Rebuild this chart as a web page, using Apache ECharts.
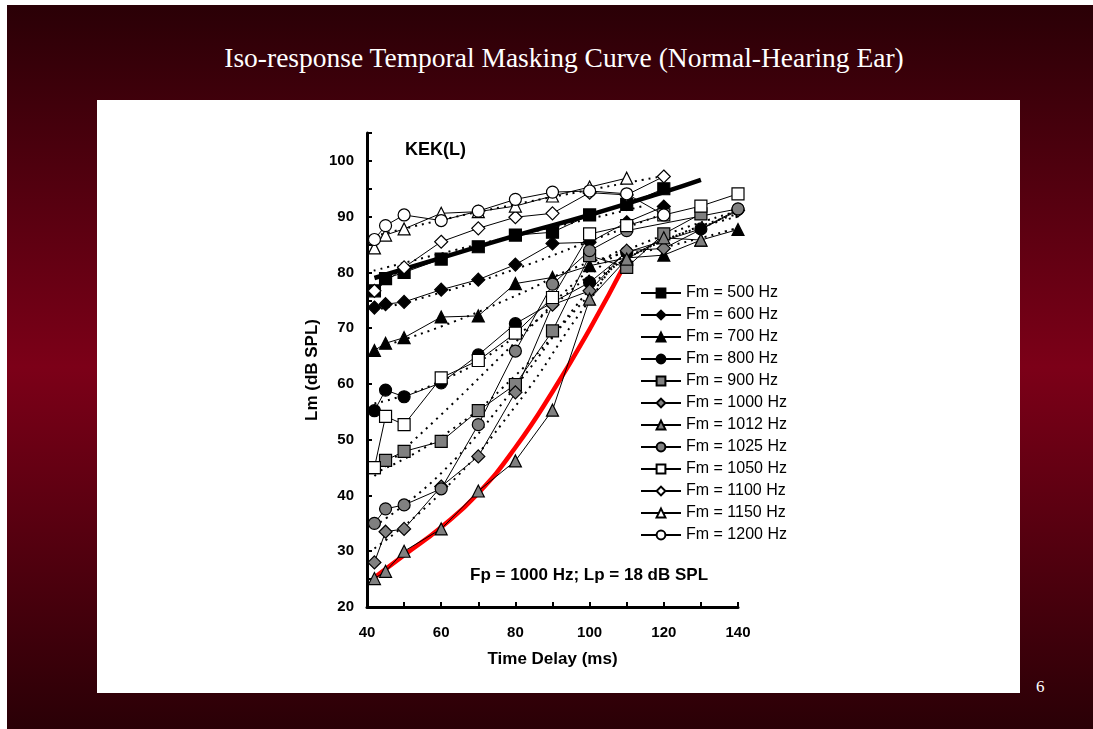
<!DOCTYPE html>
<html lang="en">
<head>
    <meta charset="UTF-8">
    <title>Iso-response Temporal Masking Curve</title>
    <style>
        * {
            margin: 0;
            padding: 0;
        }

        body {
            width: 1093px;
            height: 729px;
            background: #ffffff;
            position: relative;
            overflow: hidden;
        }

        .slide {
            position: absolute;
            left: 7px;
            top: 5px;
            right: 0;
            bottom: 0;
            background: linear-gradient(to bottom, #2a0006 0%, #7c0018 50%, #2a0006 100%);
        }

        .slide-title {
            position: absolute;
            left: 0;
            width: 1128px;
            top: 42px;
            text-align: center;
            color: #ffffff;
            font: 27.5px "Liberation Serif", "Times New Roman", serif;
        }

        .page-no {
            position: absolute;
            left: 1036px;
            top: 677px;
            color: #ffffff;
            font: 17px "Liberation Serif", "Times New Roman", serif;
        }

        .panel {
            position: absolute;
            left: 97px;
            top: 100px;
            width: 923px;
            height: 593px;
            background: #ffffff;
        }

        .main {
            position: absolute;
            left: 0;
            top: 0;
            width: 1093px;
            height: 729px;
        }
    </style>
</head>
<body>
<div class="slide"></div>
<div class="slide-title">Iso-response Temporal Masking Curve (Normal-Hearing Ear)</div>
<div class="page-no">6</div>
<div class="panel"></div>
<div id="main" class="main"></div>
<script src="https://cdn.jsdelivr.net/npm/echarts@6/dist/echarts.min.js"></script>
<script>
    // measured points: [time delay (ms), masker level (dB SPL)]
    var fm500 = [[42, 76.7], [45, 78.9], [50, 80], [60, 82.4], [70, 84.6], [80, 86.7], [90, 87.2], [100, 90.3], [110, 92.2], [120, 95]];
    var fm600 = [[42, 73.7], [45, 74.3], [50, 74.7], [60, 76.9], [70, 78.7], [80, 81.4], [90, 85.2], [100, 85.4], [110, 89], [120, 91.8]];
    var fm700 = [[42, 66], [45, 67.3], [50, 68.3], [60, 72], [70, 72.2], [80, 78], [90, 79.1], [100, 81.2], [110, 82.6], [120, 83.1], [130, 85.8], [140, 87.7]];
    var fm800 = [[42, 55.2], [45, 58.9], [50, 57.7], [60, 60.2], [70, 65.2], [80, 70.8], [90, 74.6], [100, 78.2], [110, 83.6], [130, 87.8], [140, 91.3]];
    var fm900 = [[42, 45], [45, 46.3], [50, 47.9], [60, 49.7], [70, 55.2], [80, 59.9], [90, 69.5], [100, 83], [110, 80.9], [120, 86.9], [130, 90.5]];
    var fm1000 = [[42, 28], [45, 33.5], [50, 34], [60, 41.6], [70, 47], [80, 58.5], [90, 74.2], [100, 76.7], [110, 83.9], [120, 84.3], [140, 91.1]];
    var fm1012 = [[42, 25.1], [45, 26.4], [50, 30], [60, 34], [70, 40.8], [80, 46.2], [90, 55.3], [100, 75.2], [110, 82.4], [120, 86.2], [130, 85.8]];
    var fm1025 = [[42, 35], [45, 37.6], [50, 38.3], [60, 41.2], [70, 52.7], [80, 65.9], [90, 77.9], [100, 83.9], [110, 87.5], [140, 91.4]];
    var fm1050 = [[42, 45], [45, 54.2], [50, 52.7], [60, 61.1], [70, 64.2], [80, 69.1], [90, 75.5], [100, 86.9], [110, 88.4], [120, 90.3], [130, 91.9], [140, 94.1]];
    var fm1100 = [[42, 76.7], [50, 80.9], [60, 85.5], [70, 87.9], [80, 89.9], [90, 90.6], [100, 94.3], [110, 93.9], [120, 97.2]];
    var fm1150 = [[42, 84.4], [45, 86.7], [50, 87.8], [60, 90.6], [70, 90.9], [80, 91.9], [90, 93.7], [100, 95.3], [110, 96.9]];
    var fm1200 = [[42, 85.9], [45, 88.4], [50, 90.3], [60, 89.3], [70, 91], [80, 93.1], [90, 94.4], [100, 94.6], [110, 94.1], [120, 90.3]];

    // dotted fitted curves
    var fitHigh = [[42, 86.5], [60, 89.4], [80, 92.2], [100, 94.8], [120, 97.3]];
    var fitMid = [[40, 80], [60, 83.4], [80, 86.6], [100, 89.6], [115, 92]];
    var fit600 = [[42, 73.2], [60, 76.4], [80, 80.6], [100, 85.6], [120, 90.5]];
    var fit700 = [[42, 66.3], [60, 70.3], [80, 75.8], [100, 81.8], [120, 84.5], [140, 88]];
    var fit800 = [[42, 56.5], [60, 60.5], [80, 68.5], [100, 79.5], [110, 84], [140, 91]];
    var fit1050 = [[42, 43.5], [60, 54.5], [80, 67.5], [100, 80.5], [110, 84.5]];
    var fit900 = [[42, 44], [60, 50.5], [80, 61.5], [100, 76], [110, 82.5], [140, 90.5]];
    var fit1025 = [[42, 34.5], [60, 44], [80, 59.5], [100, 77], [110, 83.5]];
    var fit1000 = [[42, 30.5], [60, 40.5], [80, 56], [100, 75], [110, 82.5], [140, 90]];

    // summary curves
    var boldBlack = [[42, 79], [60, 82.6], [80, 86.6], [100, 90.3], [120, 94.4], [130, 96.6]];
    var boldRed = [[42, 25.3], [50, 29.3], [60, 34.3], [70, 40.4], [80, 48.6], [90, 58.6], [100, 69.8], [110, 82.1]];

    var xTicks = [40, 60, 80, 100, 120, 140];
    var yTicks = [20, 30, 40, 50, 60, 70, 80, 90, 100];

    var FONT = '"Liberation Sans", Arial, sans-serif';
    var GRAY = '#808080';

    function marker(name, data, symbol, fill, size) {
        return {
            name: name,
            type: 'line',
            data: data,
            symbol: symbol,
            symbolSize: size,
            z: 5,
            lineStyle: {color: '#000', width: 1},
            itemStyle: {color: fill, borderColor: '#000', borderWidth: 1.2},
            emphasis: {disabled: true},
            animation: false
        };
    }

    function dotted(data) {
        return {
            type: 'line',
            data: data,
            smooth: true,
            symbol: 'none',
            z: 3,
            lineStyle: {color: '#000', width: 2, type: [2, 5]},
            silent: true,
            animation: false
        };
    }

    var series = [
        marker('Fm = 500 Hz', fm500, 'rect', '#000', 12),
        marker('Fm = 600 Hz', fm600, 'diamond', '#000', 13),
        marker('Fm = 700 Hz', fm700, 'triangle', '#000', 12),
        marker('Fm = 800 Hz', fm800, 'circle', '#000', 12),
        marker('Fm = 900 Hz', fm900, 'rect', GRAY, 12),
        marker('Fm = 1000 Hz', fm1000, 'diamond', GRAY, 13),
        marker('Fm = 1012 Hz', fm1012, 'triangle', GRAY, 12),
        marker('Fm = 1025 Hz', fm1025, 'circle', GRAY, 12),
        marker('Fm = 1050 Hz', fm1050, 'rect', '#fff', 12),
        marker('Fm = 1100 Hz', fm1100, 'diamond', '#fff', 13),
        marker('Fm = 1150 Hz', fm1150, 'triangle', '#fff', 12),
        marker('Fm = 1200 Hz', fm1200, 'circle', '#fff', 12)
    ];

    [fitHigh, fitMid, fit600, fit700, fit800, fit1050, fit900, fit1025, fit1000].forEach(function (d) {
        series.push(dotted(d));
    });

    series.push({
        type: 'line', data: boldBlack, smooth: true, symbol: 'none', z: 4,
        lineStyle: {color: '#000', width: 4.5}, silent: true, animation: false
    });
    series.push({
        type: 'line', data: boldRed, smooth: true, symbol: 'none', z: 4,
        lineStyle: {color: '#ff0000', width: 4.5}, silent: true, animation: false
    });

    var myChart = echarts.init(document.getElementById('main'), null, {renderer: 'canvas'});

    myChart.setOption({
        backgroundColor: 'transparent',
        animation: false,
        textStyle: {fontFamily: FONT},
        grid: {left: 367, right: 355, top: 133, bottom: 122},
        legend: {
            orient: 'vertical',
            left: 635,
            top: 280,
            itemWidth: 40,
            itemHeight: 11,
            itemGap: 6,
            selectedMode: false,
            textStyle: {fontFamily: FONT, fontSize: 16, color: '#000'},
            data: series.slice(0, 12).map(function (s) { return s.name; })
        },
        xAxis: {
            type: 'value',
            min: 40,
            max: 140,
            interval: 10,
            name: 'Time Delay (ms)',
            nameLocation: 'middle',
            nameGap: 44,
            nameTextStyle: {fontFamily: FONT, fontSize: 17, fontWeight: 'bold', color: '#000'},
            axisLine: {lineStyle: {color: '#000', width: 3}},
            axisTick: {inside: true, length: 5, lineStyle: {color: '#000', width: 2}},
            axisLabel: {
                margin: 18,
                fontFamily: FONT, fontSize: 15, fontWeight: 'bold', color: '#000',
                formatter: function (v) { return xTicks.indexOf(v) >= 0 ? String(v) : ''; }
            },
            splitLine: {show: false}
        },
        yAxis: {
            type: 'value',
            min: 20,
            max: 105,
            interval: 5,
            name: 'Lm (dB SPL)',
            nameLocation: 'middle',
            nameGap: 46,
            nameRotate: 90,
            nameTextStyle: {fontFamily: FONT, fontSize: 17, fontWeight: 'bold', color: '#000'},
            axisLine: {lineStyle: {color: '#000', width: 3}},
            axisTick: {inside: true, length: 5, lineStyle: {color: '#000', width: 2}},
            axisLabel: {
                margin: 13,
                fontFamily: FONT, fontSize: 15, fontWeight: 'bold', color: '#000',
                formatter: function (v) { return yTicks.indexOf(v) >= 0 ? String(v) : ''; }
            },
            splitLine: {show: false}
        },
        graphic: [
            {
                type: 'text', left: 405, top: 141, z: 10,
                style: {text: 'KEK(L)', font: 'bold 18px ' + FONT, fill: '#000'}
            },
            {
                type: 'text', left: 470, top: 567, z: 10,
                style: {text: 'Fp = 1000 Hz; Lp = 18 dB SPL', font: 'bold 17px ' + FONT, fill: '#000'}
            }
        ],
        series: series
    });
</script>
</body>
</html>
